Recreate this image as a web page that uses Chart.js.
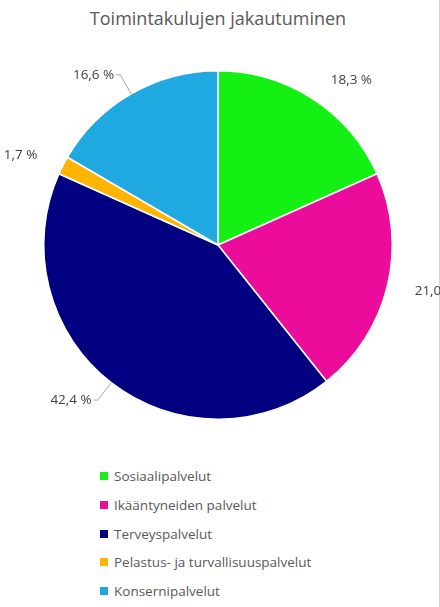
<!DOCTYPE html>
<html><head><meta charset="utf-8">
<script src="https://cdn.jsdelivr.net/npm/chart.js@4"></script>
<style>
body{margin:0;background:#fff;font-family:"Open Sans",sans-serif;}
#wrap{position:relative;width:440px;height:607px;border-right:1px solid #d0d0d0;box-sizing:border-box;}
#title{position:absolute;top:6px;left:0;width:436px;text-align:center;font-size:18px;color:#595959;}
#legend{position:absolute;left:100px;top:462px;list-style:none;margin:0;padding:0;}
#legend li{height:28.7px;font-size:13.5px;color:#595959;display:flex;align-items:center;}
#legend span{display:inline-block;width:8px;height:8px;margin-right:6px;}
</style></head><body>
<div id="wrap">
<div id="title">Toimintakulujen jakautuminen</div>
<canvas id="chart" width="440" height="440" style="position:absolute;top:0;left:0"></canvas>
<ul id="legend"></ul>
</div>
<script>
const labels = ["Sosiaalipalvelut","Ikääntyneiden palvelut","Terveyspalvelut","Pelastus- ja turvallisuuspalvelut","Konsernipalvelut"];
const values = [18.3, 21.0, 42.4, 1.7, 16.6];
const colors = ["#14f014","#ec0c9c","#000080","#ffb400","#20a8e0"];

const legend = document.getElementById("legend");
labels.forEach((l, i) => {
  const li = document.createElement("li");
  li.innerHTML = '<span style="background:' + colors[i] + '"></span>' + l;
  legend.appendChild(li);
});

// prosenttilaput kaaren ulkopuolelle
const outLabels = {
  id: "outLabels",
  afterDatasetsDraw(chart) {
    const ctx = chart.ctx;
    const meta = chart.getDatasetMeta(0);
    ctx.save();
    ctx.font = "13.5px 'Open Sans'";
    ctx.fillStyle = "#404040";
    ctx.strokeStyle = "#a6a6a6";
    ctx.textBaseline = "middle";
    meta.data.forEach((arc, i) => {
      const a = (arc.startAngle + arc.endAngle) / 2;
      const r = arc.outerRadius;
      const cx = arc.x, cy = arc.y;
      const lx = cx + Math.cos(a) * (r + 22), ly = cy + Math.sin(a) * (r + 22);
      const right = Math.cos(a) >= 0;
      if (values[i] > 40 || (values[i] > 15 && values[i] < 17)) {
        ctx.beginPath();
        ctx.moveTo(cx + Math.cos(a) * r, cy + Math.sin(a) * r);
        ctx.lineTo(lx, ly);
        ctx.lineTo(lx + (right ? 4 : -4), ly);
        ctx.stroke();
      }
      ctx.textAlign = right ? "left" : "right";
      const txt = values[i].toFixed(1).replace(".", ",") + " %";
      ctx.fillText(txt, lx + (right ? 6 : -6), ly);
    });
    ctx.restore();
  }
};

new Chart(document.getElementById("chart"), {
  type: "pie",
  data: { labels, datasets: [{ data: values, backgroundColor: colors, borderColor: "#fff", borderWidth: 1.5 }] },
  options: {
    responsive: false, animation: false,
    layout: { padding: { left: 43, right: 47, top: 70, bottom: 20 } },
    plugins: { legend: { display: false }, tooltip: { enabled: false } }
  },
  plugins: [outLabels]
});
</script>
</body></html>
